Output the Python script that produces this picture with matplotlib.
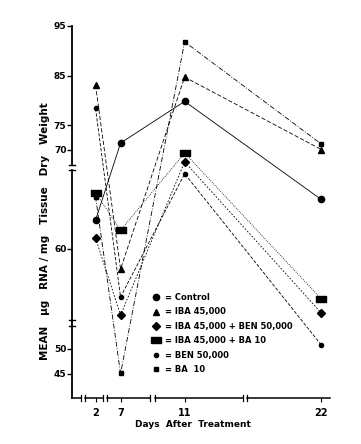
import matplotlib

matplotlib.use("Agg")
import matplotlib.pyplot as plt
import numpy as np
from matplotlib.lines import Line2D
from matplotlib.ticker import FixedLocator, NullLocator

plt.rcParams["font.family"] = "DejaVu Sans"
plt.rcParams["font.weight"] = "bold"

# data
days = [2, 7, 11, 22]
control = [62.9, 71.4, 79.8, 65.0]
iba = [83.1, 58.0, 84.7, 70.1]
iba_ben = [61.1, 53.4, 68.8, 53.6]
iba_ba = [65.7, 61.9, 69.7, 55.0]
ben = [78.4, 55.2, 67.6, 50.4]
ba = [65.3, 45.1, 91.8, 71.2]

labels = [
    "= Control",
    "= IBA 45,000",
    "= IBA 45,000 + BEN 50,000",
    "= IBA 45,000 + BA 10",
    "= BEN 50,000",
    "= BA  10",
]
ytick_vals = [95, 85, 75, 70, 60, 50, 45]
xtick_vals = [2, 7, 11, 22]

# the original axes are broken and not uniform, so map with piecewise scales
y_knots = [0, 45, 50, 60, 70, 95, 200]
y_pos = [-599, -374, -349, -249, -150, -26, 499]
x_knots = [-50, 2, 7, 11, 22, 100]
x_pos = [-164.5, 95.5, 120.5, 184.5, 321, 1288]


def yf(v):
    return np.interp(v, y_knots, y_pos)


def yi(p):
    return np.interp(p, y_pos, y_knots)


def xf(v):
    return np.interp(v, x_knots, x_pos)


def xi(p):
    return np.interp(p, x_pos, x_knots)


rect = [(-1, -0.55), (1, -0.55), (1, 0.55), (-1, 0.55), (-1, -0.55)]
series = [
    (control, "o", 4.5, "-"),
    (iba, "^", 5, (0, (5, 2.5))),
    (iba_ben, "D", 4.2, (0, (2, 2))),
    (iba_ba, rect, 7, (0, (1, 1.5))),
    (ben, "o", 3, (0, (4, 2))),
    (ba, "s", 3, (0, (6, 2, 1, 2))),
]

fig = plt.figure(figsize=(3.61, 4.44), dpi=100)
ax = fig.add_axes([72 / 361, 1 - 398 / 444, 258 / 361, 372 / 444])
ax.set_xscale("function", functions=(xf, xi))
ax.set_yscale("function", functions=(yf, yi))

for vals, m, ms, ls in series:
    ax.plot(days, vals, color="k", lw=0.6, ls=ls, marker=m, ms=ms,
            mfc="k", mec="k", clip_on=False)

ax.set_xlim(-2.7, 22.7)
ax.set_ylim(40.2, 95)
for s in ax.spines.values():
    s.set_visible(False)

# broken axis segments
ytr = ax.get_yaxis_transform()
xtr = ax.get_xaxis_transform()
for lo, hi in [(52.9, 40.2), (68.0, 52.3), (95, 68.5)]:
    ax.plot([0, 0], [lo, hi], color="k", lw=1.3, transform=ytr, clip_on=False)
for yb in [68.5, 68.0, 52.9, 52.3]:
    ax.plot([-0.012, 0.012], [yb, yb], color="k", lw=1.0, transform=ytr, clip_on=False)
for lo, hi in [(-2.7, -0.9), (-0.1, 3.5), (4.3, 8.84), (9.16, 15.7), (16.0, 22.7)]:
    ax.plot([lo, hi], [0, 0], color="k", lw=1.1, transform=xtr, clip_on=False)
for xb in [-0.9, -0.1, 3.5, 4.3, 8.84, 9.16, 15.7, 16.0]:
    ax.plot([xb, xb], [-0.007, 0.007], color="k", lw=0.9, transform=xtr, clip_on=False)

ax.yaxis.set_major_locator(FixedLocator(ytick_vals))
ax.yaxis.set_minor_locator(NullLocator())
ax.set_yticklabels([str(v) for v in ytick_vals], fontsize=6.5, fontweight="bold")
ax.tick_params(axis="y", length=3.5, width=1.0, pad=0.5)
ax.xaxis.set_major_locator(FixedLocator(xtick_vals))
ax.xaxis.set_minor_locator(NullLocator())
ax.set_xticklabels([str(v) for v in xtick_vals], fontsize=7, fontweight="bold")
ax.tick_params(axis="x", length=3, width=0.8, pad=4)

fig.text(45 / 361, 1 - 231 / 444,
         "MEAN   \u00b5g   RNA / mg   Tissue   Dry   Weight",
         rotation=90, ha="center", va="center", fontsize=7.5, fontweight="bold")
fig.text(193 / 361, 1 - 424 / 444, "Days  After  Treatment",
         ha="center", va="center", fontsize=6.5, fontweight="bold")

handles = [
    Line2D([], [], color="k", ls="none", marker=m, ms=ms)
    for _, m, ms, _ in series
]
fig.legend(handles, labels, loc="upper left",
           bbox_to_anchor=(152 / 361, 1 - 293 / 444), frameon=False,
           fontsize=6, handlelength=1.0, handletextpad=0.6,
           labelspacing=0.65, borderpad=0, borderaxespad=0)

fig.savefig("out.png", dpi=100, facecolor="white")
